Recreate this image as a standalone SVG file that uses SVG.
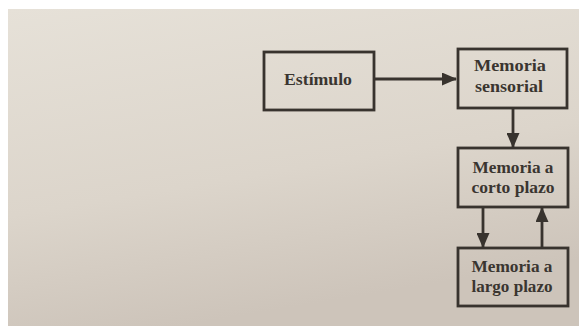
<svg xmlns="http://www.w3.org/2000/svg" width="579" height="326" viewBox="0 0 579 326">
<defs>
<linearGradient id="bg" x1="0" y1="0" x2="0.3" y2="1">
<stop offset="0" stop-color="#e6e1d8"/>
<stop offset="0.6" stop-color="#dcd5cb"/>
<stop offset="1" stop-color="#cdc4ba"/>
</linearGradient>
<marker id="ah" viewBox="0 0 15 13" refX="14" refY="6.5" markerWidth="15" markerHeight="13" markerUnits="userSpaceOnUse" orient="auto">
<path d="M0,0 L15,6.5 L0,13 Z" fill="#38332e"/>
</marker>
<style>
.box{fill:none;stroke:#38332e;stroke-width:2.8}
.t{font-family:"Liberation Serif","Times New Roman",serif;font-weight:bold;font-size:17.5px;fill:#3a3530;text-anchor:middle}
.c{fill:none;stroke:#38332e;stroke-width:2.8}
</style>
</defs>
<rect x="0" y="0" width="579" height="326" fill="#ffffff"/>
<rect x="8" y="9" width="571" height="317" fill="url(#bg)"/>
<g id="estimulo">
<rect class="box" x="264" y="52" width="110" height="58"/>
<text class="t" x="318" y="85" textLength="68" lengthAdjust="spacingAndGlyphs">Estímulo</text>
</g>
<g id="sensorial">
<rect class="box" x="458" y="49" width="109" height="59"/>
<text class="t" x="510" y="71" textLength="72" lengthAdjust="spacingAndGlyphs">Memoria</text>
<text class="t" x="509" y="92" textLength="68" lengthAdjust="spacingAndGlyphs">sensorial</text>
</g>
<g id="corto">
<rect class="box" x="458" y="148" width="110" height="59"/>
<text class="t" x="513" y="173" textLength="81" lengthAdjust="spacingAndGlyphs">Memoria a</text>
<text class="t" x="513" y="193" textLength="83" lengthAdjust="spacingAndGlyphs">corto plazo</text>
</g>
<g id="largo">
<rect class="box" x="458" y="248" width="110" height="58"/>
<text class="t" x="512" y="272" textLength="81" lengthAdjust="spacingAndGlyphs">Memoria a</text>
<text class="t" x="512" y="292" textLength="81" lengthAdjust="spacingAndGlyphs">largo plazo</text>
</g>
<g id="connectors">
<line class="c" x1="375" y1="79" x2="456" y2="79" marker-end="url(#ah)"/>
<line class="c" x1="513" y1="109" x2="513" y2="147" marker-end="url(#ah)"/>
<line class="c" x1="483" y1="208" x2="483" y2="247" marker-end="url(#ah)"/>
<line class="c" x1="542" y1="247" x2="542" y2="208" marker-end="url(#ah)"/>
</g>
</svg>
